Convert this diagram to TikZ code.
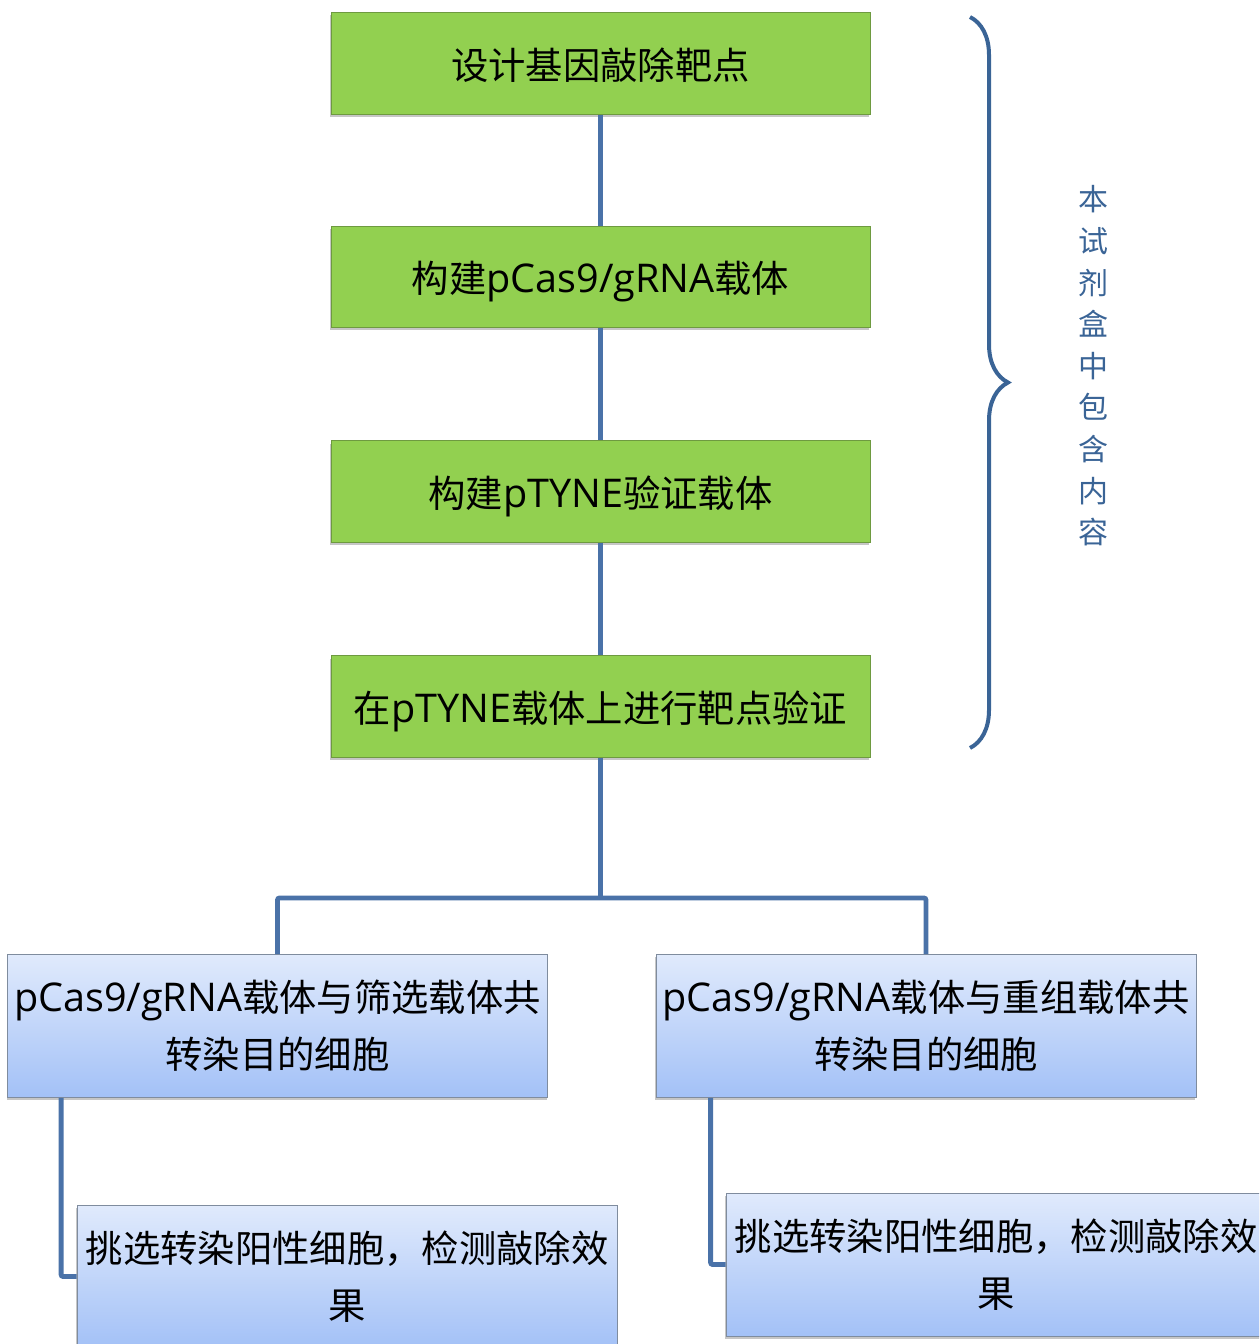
\documentclass[tikz,border=0pt]{standalone}
\usepackage{fontspec}
\setmainfont{Noto Sans CJK SC}
\newfontfamily\lat{Open Sans}[Scale=1.06]
\usetikzlibrary{shadows,decorations.pathreplacing,calc}
\definecolor{lnc}{HTML}{4A72A8}
\definecolor{brc}{HTML}{3A6496}
\definecolor{grn}{HTML}{92D050}
\definecolor{grnb}{HTML}{6E9A40}
\definecolor{bluetop}{HTML}{E0EAFC}
\definecolor{bluebot}{HTML}{A3C1F7}
\definecolor{blueb}{HTML}{7F8C9E}
\tikzset{
  greenbox/.style={draw=grnb, line width=0.6pt, fill=grn, minimum width=404.25pt, minimum height=76pt, inner sep=0pt,
    font=\fontsize{28}{42}\selectfont, text height=25pt, text depth=1.5pt,
    drop shadow={shadow xshift=-0.5pt, shadow yshift=-2pt, opacity=0.45, fill=gray}},
  bluebox/.style={draw=blueb, line width=0.6pt, top color=bluetop, bottom color=bluebot, minimum width=405pt, minimum height=107.25pt,
    inner sep=0pt, align=center, font=\fontsize{28}{43}\selectfont,
    drop shadow={shadow xshift=-0.5pt, shadow yshift=-2pt, opacity=0.45, fill=gray}},
  conn/.style={draw=lnc, line width=3.6pt},
  bracestyle/.style={draw=brc, line width=3pt, decorate, decoration={brace, amplitude=28.5pt, aspect=0.5}},
  vtext/.style={text=brc, align=center, font=\fontsize{22.5}{31.2}\selectfont}
}
\begin{document}
\begin{tikzpicture}[x=0.75pt,y=-0.75pt]
\useasboundingbox (0,0) rectangle (1259,1344);
\clip (0,0) rectangle (1259,1344);
\node[greenbox] (g1) at (600.5,63.5) {设计基因敲除靶点};
\node[greenbox] (g2) at (600.5,277) {构建{\lat pCas9/gRNA}载体};
\node[greenbox] (g3) at (600.5,491.5) {构建{\lat pTYNE}验证载体};
\node[greenbox] (g4) at (600.5,706.5) {在{\lat pTYNE}载体上进行靶点验证};
\node[bluebox] (b1) at (277.5,1026) {{\lat pCas9/gRNA}载体与筛选载体共\\转染目的细胞};
\node[bluebox] (b2) at (926,1026) {{\lat pCas9/gRNA}载体与重组载体共\\转染目的细胞};
\node[bluebox] (c1) at (347,1276.5) {挑选转染阳性细胞，检测敲除效\\果};
\node[bluebox] (c2) at (996,1264.5) {挑选转染阳性细胞，检测敲除效\\果};
\draw[conn] (g1) -- (g2);
\draw[conn] (g2) -- (g3);
\draw[conn] (g3) -- (g4);
\coordinate (j) at (600.5,898);
\draw[conn] (g4.south) -- (j);
\draw[conn, rounded corners=1.5pt] (b1.north) |- (j) -| (b2.north);
\draw[conn, rounded corners=1.5pt] ($(b1.south west)+(54,0)$) |- (c1.west);
\draw[conn, rounded corners=1.5pt] ($(b2.south west)+(55,0)$) |- (c2.west);
\draw[bracestyle] (970,17) -- (970,748);
\node[vtext] (kit) at (1093,366) {本\\试\\剂\\盒\\中\\包\\含\\内\\容};
\end{tikzpicture}
\end{document}
